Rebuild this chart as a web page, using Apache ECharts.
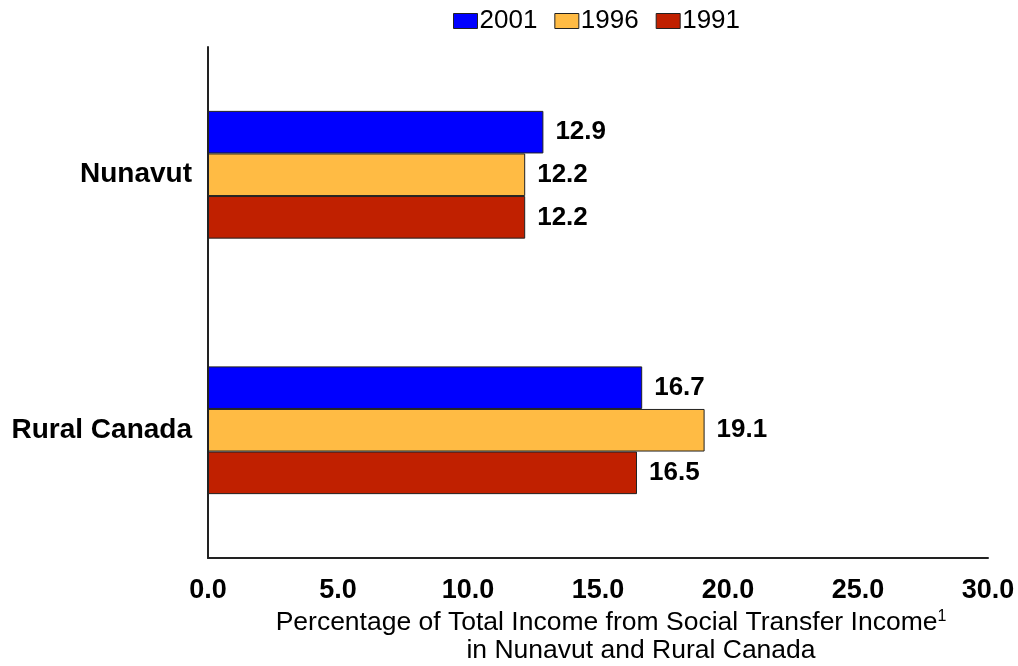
<!DOCTYPE html>
<html><head><meta charset="utf-8">
<script src="https://cdn.jsdelivr.net/npm/echarts@6/dist/echarts.min.js"></script>
<style>html,body{margin:0;padding:0;background:#fff}#c{width:1018px;height:666px}</style>
</head><body><div id="c"></div>
<script>
const categories = ['Nunavut', 'Rural Canada'];
const years = ['2001', '1996', '1991'];
const values2001 = [12.9, 16.7];
const values1996 = [12.2, 19.1];
const values1991 = [12.2, 16.5];
const colors = ['#0000FF', '#FFBB44', '#C02000'];
const xTicks = [0, 5, 10, 15, 20, 25, 30];

const font = 'Liberation Sans, Arial, sans-serif';
const chart = echarts.init(document.getElementById('c'));
const seriesData = [values2001, values1996, values1991];
chart.setOption({
  animation: false,
  legend: {
    top: 3, left: 448, icon: 'rect', itemWidth: 24, itemHeight: 15, itemGap: 17,
    textStyle: { fontFamily: font, fontSize: 26, color: '#000', padding: [0, 0, 0, -3] },
    data: years.map((y, i) => ({ name: y, itemStyle: { color: colors[i], borderColor: '#222', borderWidth: 1 } }))
  },
  grid: { left: 208, right: 30, top: 47, bottom: 108, outerBoundsMode: 'none' },
  xAxis: {
    type: 'value', min: 0, max: 30, interval: 5,
    axisLine: { show: true, lineStyle: { color: '#222', width: 2 } },
    axisTick: { show: false },
    splitLine: { show: false },
    axisLabel: { fontFamily: font, fontSize: 27, fontWeight: 'bold', color: '#000', margin: 19,
      formatter: v => v.toFixed(1) },
    name: '{t|Percentage of Total Income from Social Transfer Income}{s|1}\n{u|in Nunavut and Rural Canada}',
    nameLocation: 'middle', nameGap: 49,
    nameTextStyle: {
      fontFamily: font, color: '#000',
      rich: {
        t: { fontFamily: font, fontSize: 26.5, color: '#000', lineHeight: 28, padding: [0, 0, 0, 26] },
        u: { fontFamily: font, fontSize: 26.5, color: '#000', lineHeight: 28, padding: [0, 0, 0, 86] },
        s: { fontFamily: font, fontSize: 16, color: '#000', verticalAlign: 'top', lineHeight: 28, padding: [0, 0, 16, 0] }
      }
    }
  },
  yAxis: {
    type: 'category', data: categories, inverse: true,
    axisLine: { show: true, lineStyle: { color: '#222', width: 2 } },
    axisTick: { show: false },
    axisLabel: { fontFamily: font, fontSize: 28, fontWeight: 'bold', color: '#000', margin: 16 }
  },
  series: years.map((y, i) => ({
    name: y, type: 'bar', data: seriesData[i],
    barGap: '0%', barCategoryGap: '50%',
    itemStyle: { color: colors[i], borderColor: '#222', borderWidth: 1 },
    label: { show: true, position: 'right', distance: 12, fontFamily: font, fontSize: 26, fontWeight: 'bold', color: '#000',
      formatter: p => p.value.toFixed(1) }
  }))
});
</script></body></html>
